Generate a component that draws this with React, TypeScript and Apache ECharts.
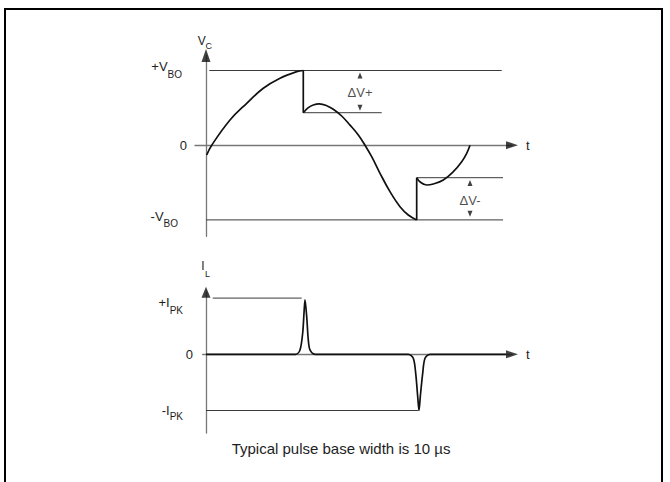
import React, { useEffect, useRef } from "react";
import * as echarts from "echarts";

// ---------- Data ----------
// Upper trace: capacitor voltage V_C, normalised so that +V_BO = 1
const VBO = 1;
const DV_LEVEL = 0.435;
const VC_RISE_T = [0.23, 1.9, 8.0, 13.57, 19.1, 24.67, 30.23, 32.43];
const VC_RISE_V = [-0.131, 0, 0.337, 0.561, 0.762, 0.896, 0.984, 1.0];
const VC_DROP_T = [32.43, 32.43];
const VC_DROP_V = [1.0, 0.435];
const VC_FALL_T = [32.43, 34.1, 35.77, 37.77, 40.23, 42.43, 45.23, 48.0, 50.77, 53.0, 55.23, 58.0, 61.33, 64.67, 67.43, 70.23];
const VC_FALL_V = [0.435, 0.502, 0.538, 0.552, 0.529, 0.481, 0.391, 0.269, 0.137, 0, -0.154, -0.376, -0.622, -0.823, -0.934, -1.0];
const VC_JUMP_T = [70.23, 70.23];
const VC_JUMP_V = [-1.0, -0.435];
const VC_TAIL_T = [70.23, 71.3, 73.57, 75.77, 79.1, 82.43, 85.23, 86.9, 88.0];
const VC_TAIL_V = [-0.435, -0.489, -0.533, -0.519, -0.466, -0.355, -0.221, -0.108, 0];

// Reference levels in the upper panel: [tStart, tEnd], level
const VC_REF_T = [[1.1, 98.57], [32.43, 58.57], [70.23, 99], [0, 99]];
const VC_REF_V = [VBO, DV_LEVEL, -DV_LEVEL, -VBO];

// ΔV annotation arrows (t, v)
const DVP_T = 51.33;
const DVP_UP_V = 0.933;
const DVP_DOWN_V = 0.5;
const DVP_LABEL_V = 0.712;
const DVN_T = 88.0;
const DVN_UP_V = -0.506;
const DVN_DOWN_V = -0.917;
const DVN_LABEL_V = -0.734;

const VC_TICKS = [VBO, 0, -VBO];
const VC_TICK_LABELS = ["{pv|+V}{pvs|BO}", "{z|0}", "{nv|-V}{nvs|BO}"];

// Lower trace: load current I_L, normalised so that +I_PK = 1
const IPK = 1;
const IL_T = [0, 29.9, 31.33, 32.23, 32.67, 33.0, 33.57, 34.1, 34.67, 36.33, 67.43, 69.1, 69.9, 70.57, 71.0, 71.43, 72.23, 73.0, 74.67, 100];
const IL_V = [0, 0, 0.077, 0.379, 0.735, 0.97, 0.669, 0.254, 0.077, 0, 0, -0.071, -0.338, -0.754, -1.0, -0.754, -0.338, -0.071, 0, 0];
const IL_REF_T = [[2.23, 31.9], [0, 70.77]];
const IL_REF_V = [IPK, -IPK];

const IL_TICKS = [IPK, 0, -IPK];
const IL_TICK_LABELS = ["{pi|+I}{pis|PK}", "{z|0}", "{ni|-I}{nis|PK}"];

const CAPTION = "Typical pulse base width is 10 µs";

// ---------- Layout ----------
const FONT = "'Liberation Sans', Arial, Helvetica, sans-serif";
const INK = "#1e1e1e";
const X0 = 206; // pixel of t = 0
const XS = 3; // px per t unit
const T_MAX = 102;
const T_MIN_TOP = -11 / 3;
const T_MIN_BOT = -1.1;
const Y0_TOP = 145.2;
const YS_TOP = 74.7;
const V_MAX = 1.2;
const V_MIN = -1.22;
const Y0_BOT = 354.3;
const YS_BOT = 56.2;
const I_MAX = 1.105;
const I_MIN = -1.4;

const zip = (a: number[], b: number[]) => a.map((v, i) => [v, b[i]]);

export default function App() {
  const ref = useRef<HTMLDivElement>(null);
  useEffect(() => {
    if (!ref.current) return;
    const chart = echarts.init(ref.current, undefined, { renderer: "svg" });

    const curve = (name: string, t: number[], v: number[], idx: number, smooth: boolean | number) => ({
      name,
      type: "line",
      xAxisIndex: idx,
      yAxisIndex: idx,
      data: zip(t, v),
      smooth,
      symbol: "none",
      z: 5,
      lineStyle: { color: "#111", width: 1.7 },
    });
    const refLines = (prefix: string, ts: number[][], vs: number[], idx: number) =>
      ts.map((tt, i) => ({
        name: prefix + i,
        type: "line",
        xAxisIndex: idx,
        yAxisIndex: idx,
        data: [[tt[0], vs[i]], [tt[1], vs[i]]],
        symbol: "none",
        z: 3,
        lineStyle: { color: "#3a3a3a", width: 1 },
      }));

    const axisLine = { onZero: true, lineStyle: { color: "#777", width: 1.3 } };
    const xAxisBase = {
      type: "value",
      max: T_MAX,
      axisLine,
      axisTick: { show: false },
      axisLabel: { show: false },
      splitLine: { show: false },
      name: "t",
      nameLocation: "end",
      nameGap: 14,
      nameTextStyle: { fontFamily: FONT, fontSize: 13, color: INK },
    };
    const tok = (size: number, padding?: number[]) => ({
      fontFamily: FONT,
      fontSize: size,
      color: INK,
      verticalAlign: "middle",
      ...(padding ? { padding } : {}),
    });
    const rich = {
      z: tok(13),
      pv: tok(13, [0, 0, 9, 0]),
      pvs: tok(10, [7, 5, 0, 0]),
      nv: tok(13, [0, 0, 7, 0]),
      nvs: tok(10, [8, 9, 0, 0]),
      pi: tok(13, [9, 0, 0, 0]),
      pis: tok(10, [24, 10, 0, 0]),
      ni: tok(13),
      nis: tok(10, [12, 10, 0, 0]),
    };
    const yAxisBase = (ticks: number[], labels: string[], margin: number) => ({
      type: "value",
      axisLine,
      axisTick: { show: false },
      splitLine: { show: false },
      axisLabel: {
        show: true,
        customValues: ticks,
        margin,
        color: INK,
        fontFamily: FONT,
        formatter: (val: number) => {
          const i = ticks.findIndex((t) => Math.abs(t - val) < 1e-6);
          return i >= 0 ? labels[i] : "";
        },
        rich,
      },
    });

    const arrowRight = "path://M0,0L12,4L0,8Z";
    const arrowUp = "path://M5,0L10,12L0,12Z";
    const arrowDown = "path://M0,0L10,0L5,12Z";

    const option = {
      animation: false,
      backgroundColor: "#fff",
      grid: [
        {
          left: X0 + T_MIN_TOP * XS,
          width: (T_MAX - T_MIN_TOP) * XS,
          top: Y0_TOP - V_MAX * YS_TOP,
          height: (V_MAX - V_MIN) * YS_TOP,
        },
        {
          left: X0 + T_MIN_BOT * XS,
          width: (T_MAX - T_MIN_BOT) * XS,
          top: Y0_BOT - I_MAX * YS_BOT,
          height: (I_MAX - I_MIN) * YS_BOT,
        },
      ],
      xAxis: [
        { ...xAxisBase, gridIndex: 0, min: T_MIN_TOP },
        { ...xAxisBase, gridIndex: 1, min: T_MIN_BOT },
      ],
      yAxis: [
        { ...yAxisBase(VC_TICKS, VC_TICK_LABELS, 8), gridIndex: 0, min: V_MIN, max: V_MAX },
        { ...yAxisBase(IL_TICKS, IL_TICK_LABELS, 9.7), gridIndex: 1, min: I_MIN, max: I_MAX },
      ],
      series: [
        ...refLines("vref", VC_REF_T, VC_REF_V, 0),
        ...refLines("iref", IL_REF_T, IL_REF_V, 1),
        curve("vc-rise", VC_RISE_T, VC_RISE_V, 0, 0.4),
        curve("vc-drop", VC_DROP_T, VC_DROP_V, 0, false),
        curve("vc-fall", VC_FALL_T, VC_FALL_V, 0, 0.4),
        curve("vc-jump", VC_JUMP_T, VC_JUMP_V, 0, false),
        curve("vc-tail", VC_TAIL_T, VC_TAIL_V, 0, 0.4),
        curve("il", IL_T, IL_V, 1, 0.3),
        // ΔV arrows
        {
          name: "dv-up",
          type: "scatter",
          xAxisIndex: 0,
          yAxisIndex: 0,
          symbol: arrowUp,
          symbolSize: [5, 6],
          itemStyle: { color: "#111" },
          data: [[DVP_T, DVP_UP_V], [DVN_T, DVN_UP_V]],
          z: 6,
        },
        {
          name: "dv-down",
          type: "scatter",
          xAxisIndex: 0,
          yAxisIndex: 0,
          symbol: arrowDown,
          symbolSize: [5, 6],
          itemStyle: { color: "#111" },
          data: [[DVP_T, DVP_DOWN_V], [DVN_T, DVN_DOWN_V]],
          z: 6,
        },
        {
          name: "dv-labels",
          type: "scatter",
          xAxisIndex: 0,
          yAxisIndex: 0,
          symbolSize: 0,
          data: [
            { value: [DVP_T, DVP_LABEL_V], label: { formatter: "ΔV+" } },
            { value: [DVN_T, DVN_LABEL_V], label: { formatter: "ΔV-" } },
          ],
          label: { show: true, position: "inside", fontFamily: FONT, fontSize: 13, color: INK },
          z: 6,
        },
        // axis arrow heads
        {
          name: "arrow-x",
          type: "scatter",
          xAxisIndex: 0,
          yAxisIndex: 0,
          symbol: arrowRight,
          symbolSize: [12, 8],
          itemStyle: { color: "#111" },
          data: [[T_MAX, 0]],
          z: 7,
        },
        {
          name: "arrow-y",
          type: "scatter",
          xAxisIndex: 0,
          yAxisIndex: 0,
          symbol: arrowUp,
          symbolSize: [9, 13],
          itemStyle: { color: "#111" },
          data: [[0, V_MAX]],
          z: 7,
        },
        {
          name: "arrow-x2",
          type: "scatter",
          xAxisIndex: 1,
          yAxisIndex: 1,
          symbol: arrowRight,
          symbolSize: [12, 8],
          itemStyle: { color: "#111" },
          data: [[T_MAX, 0]],
          z: 7,
        },
        {
          name: "arrow-y2",
          type: "scatter",
          xAxisIndex: 1,
          yAxisIndex: 1,
          symbol: arrowUp,
          symbolSize: [9, 11],
          itemStyle: { color: "#111" },
          data: [[0, I_MAX]],
          z: 7,
        },
      ],
      graphic: [
        {
          type: "polyline",
          shape: { points: [[5, 482], [5, 9], [662, 9], [662, 482]] },
          style: { stroke: "#000", lineWidth: 2, fill: null },
          silent: true,
        },
        { type: "text", x: 201.7, y: 40.5, style: { text: "V", font: `12px ${FONT}`, fill: INK, align: "center", verticalAlign: "middle" } },
        { type: "text", x: 208.7, y: 45.5, style: { text: "C", font: `9px ${FONT}`, fill: INK, align: "center", verticalAlign: "middle" } },
        { type: "text", x: 203, y: 266, style: { text: "I", font: `12px ${FONT}`, fill: INK, align: "center", verticalAlign: "middle" } },
        { type: "text", x: 207.5, y: 274, style: { text: "L", font: `9px ${FONT}`, fill: INK, align: "center", verticalAlign: "middle" } },
        { type: "text", x: 341, y: 448, style: { text: CAPTION, font: `15px ${FONT}`, fill: INK, align: "center", verticalAlign: "middle" } },
      ],
    };

    chart.setOption(option as any);
    return () => chart.dispose();
  }, []);

  return <div ref={ref} style={{ position: "absolute", left: 0, top: 0, width: 670, height: 482 }} />;
}
